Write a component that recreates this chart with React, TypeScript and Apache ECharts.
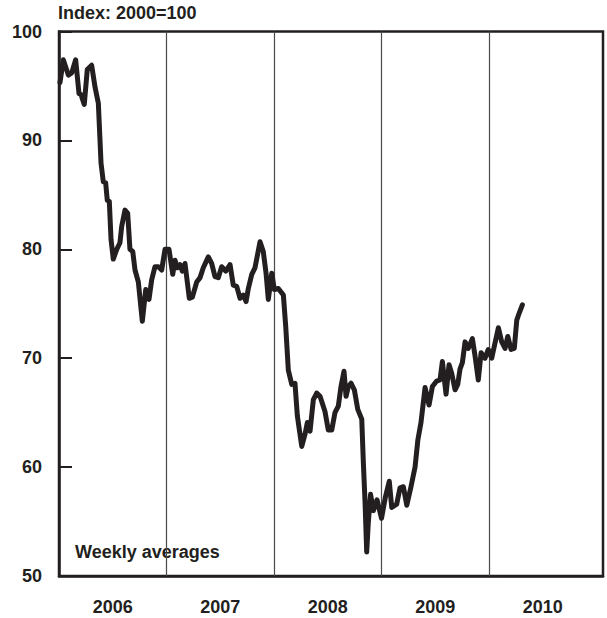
import React, { useEffect, useRef } from "react";
import * as echarts from "echarts";

const times: number[] = [
  2006.009, 2006.040, 2006.087, 2006.118, 2006.155, 2006.186, 2006.205, 2006.235, 2006.263, 2006.304,
  2006.335, 2006.366, 2006.391, 2006.412, 2006.434, 2006.449, 2006.468, 2006.484, 2006.505, 2006.537,
  2006.567, 2006.583, 2006.614, 2006.639, 2006.660, 2006.686, 2006.707, 2006.738, 2006.775, 2006.807,
  2006.837, 2006.862, 2006.893, 2006.924, 2006.955, 2006.986, 2007.023, 2007.058, 2007.079, 2007.100,
  2007.126, 2007.147, 2007.172, 2007.212, 2007.240, 2007.281, 2007.312, 2007.342, 2007.389, 2007.420,
  2007.451, 2007.482, 2007.513, 2007.551, 2007.591, 2007.621, 2007.653, 2007.684, 2007.714, 2007.740,
  2007.761, 2007.793, 2007.823, 2007.870, 2007.900, 2007.926, 2007.947, 2007.979, 2008.003, 2008.040,
  2008.087, 2008.109, 2008.133, 2008.165, 2008.195, 2008.217, 2008.258, 2008.288, 2008.310, 2008.335,
  2008.366, 2008.397, 2008.428, 2008.474, 2008.505, 2008.537, 2008.567, 2008.598, 2008.623, 2008.651,
  2008.670, 2008.691, 2008.716, 2008.747, 2008.779, 2008.816, 2008.831, 2008.847, 2008.862, 2008.877,
  2008.898, 2008.924, 2008.958, 2009.000, 2009.037, 2009.072, 2009.095, 2009.141, 2009.172, 2009.203,
  2009.235, 2009.274, 2009.312, 2009.338, 2009.367, 2009.405, 2009.442, 2009.473, 2009.513, 2009.544,
  2009.566, 2009.600, 2009.628, 2009.653, 2009.684, 2009.709, 2009.730, 2009.752, 2009.777, 2009.807,
  2009.845, 2009.870, 2009.900, 2009.926, 2009.963, 2009.993, 2010.025, 2010.049, 2010.087, 2010.118,
  2010.149, 2010.174, 2010.205, 2010.235, 2010.258, 2010.279, 2010.310,
];

// Index values (2000 = 100)
const values: number[] = [
  95.3, 97.4, 96.0, 96.2, 97.4, 94.3, 94.2, 93.3, 96.5, 96.9,
  94.9, 93.4, 87.9, 86.2, 86.1, 84.5, 84.4, 80.9, 79.1, 80.0,
  80.6, 82.1, 83.6, 83.3, 80.0, 79.8, 78.1, 77.0, 73.4, 76.3,
  75.4, 77.2, 78.4, 78.4, 78.1, 80.0, 80.0, 77.7, 79.0, 78.3,
  78.6, 78.0, 78.7, 75.5, 75.6, 77.0, 77.4, 78.3, 79.3, 78.7,
  77.5, 77.4, 78.4, 78.0, 78.6, 76.7, 76.6, 75.5, 75.8, 75.2,
  76.4, 77.7, 78.3, 80.7, 79.8, 77.8, 75.4, 77.8, 76.3, 76.4,
  75.8, 72.9, 68.9, 67.6, 67.7, 64.7, 61.9, 63.0, 64.1, 63.3,
  66.2, 66.8, 66.5, 65.1, 63.4, 63.4, 65.0, 65.6, 67.4, 68.8,
  66.5, 67.4, 67.7, 67.1, 65.3, 64.4, 60.4, 56.7, 52.2, 54.9,
  57.5, 56.0, 57.0, 55.3, 57.3, 58.7, 56.3, 56.6, 58.1, 58.2,
  56.5, 58.2, 60.0, 62.5, 64.1, 67.3, 65.7, 67.4, 67.9, 68.0,
  69.7, 66.7, 69.4, 68.6, 67.1, 67.6, 69.0, 69.6, 71.5, 70.9,
  71.8, 70.2, 68.0, 70.5, 70.0, 70.8, 70.0, 71.1, 72.8, 71.5,
  70.9, 72.0, 70.8, 70.9, 73.5, 74.1, 74.9,
];

const yearLabels: string[] = ["2006", "2007", "2008", "2009", "2010"];
const yearBoundaries: number[] = [2007, 2008, 2009, 2010];
const yTicks = { min: 50, max: 100, interval: 10 };

const INK = "#231f20";
const FONT = "'Liberation Sans', Arial, Helvetica, sans-serif";
const FS = 18;

export default function App() {
  const ref = useRef<HTMLDivElement>(null);
  useEffect(() => {
    if (!ref.current) return;
    const chart = echarts.init(ref.current, null, { renderer: "svg" });
    const labelCenters = yearLabels.map((y) => Number(y) + 0.5);
    chart.setOption({
      animation: false,
      backgroundColor: "#ffffff",
      textStyle: { fontFamily: FONT },
      grid: {
        left: 59,
        top: 31.5,
        right: 4,
        bottom: 42,
        show: true,
        borderColor: INK,
        borderWidth: 2.5,
        backgroundColor: "transparent",
      },
      xAxis: {
        type: "value",
        min: 2006,
        max: 2011.06,
        axisLine: { show: true, lineStyle: { color: INK, width: 2.5 } },
        axisTick: { show: false },
        splitLine: { show: false },
        axisLabel: {
          customValues: labelCenters,
          formatter: (v: number) => String(Math.floor(v)),
          color: INK,
          fontSize: FS,
          fontWeight: "bold",
          fontFamily: FONT,
          margin: 22,
        },
      },
      yAxis: {
        type: "value",
        min: yTicks.min,
        max: yTicks.max,
        interval: yTicks.interval,
        axisLine: { show: true, lineStyle: { color: INK, width: 2.5 } },
        axisTick: { show: true, inside: true, length: 13, lineStyle: { color: INK, width: 2 } },
        splitLine: { show: false },
        axisLabel: {
          color: INK,
          fontSize: FS,
          fontWeight: "bold",
          fontFamily: FONT,
          margin: 17,
        },
      },
      graphic: [
        {
          type: "text",
          left: 58,
          top: 4,
          style: { text: "Index: 2000=100", fill: INK, font: `bold ${FS}px ${FONT}` },
        },
        {
          type: "text",
          left: 75,
          top: 543,
          style: { text: "Weekly averages", fill: INK, font: `bold ${FS}px ${FONT}` },
        },
      ],
      series: [
        {
          type: "line",
          data: times.map((t, i) => [t, values[i]]),
          showSymbol: false,
          symbol: "none",
          lineStyle: { color: INK, width: 5, join: "round", cap: "round" },
          z: 3,
          markLine: {
            silent: true,
            symbol: ["none", "none"],
            label: { show: false },
            lineStyle: { color: "#4a4a4a", width: 1.2, type: "solid" },
            data: yearBoundaries.map((b) => ({ xAxis: b })),
            z: 1,
          },
        },
      ],
    });
    return () => chart.dispose();
  }, []);
  return (
    <div
      ref={ref}
      style={{ position: "fixed", left: 0, top: 0, width: 607, height: 618 }}
    />
  );
}
